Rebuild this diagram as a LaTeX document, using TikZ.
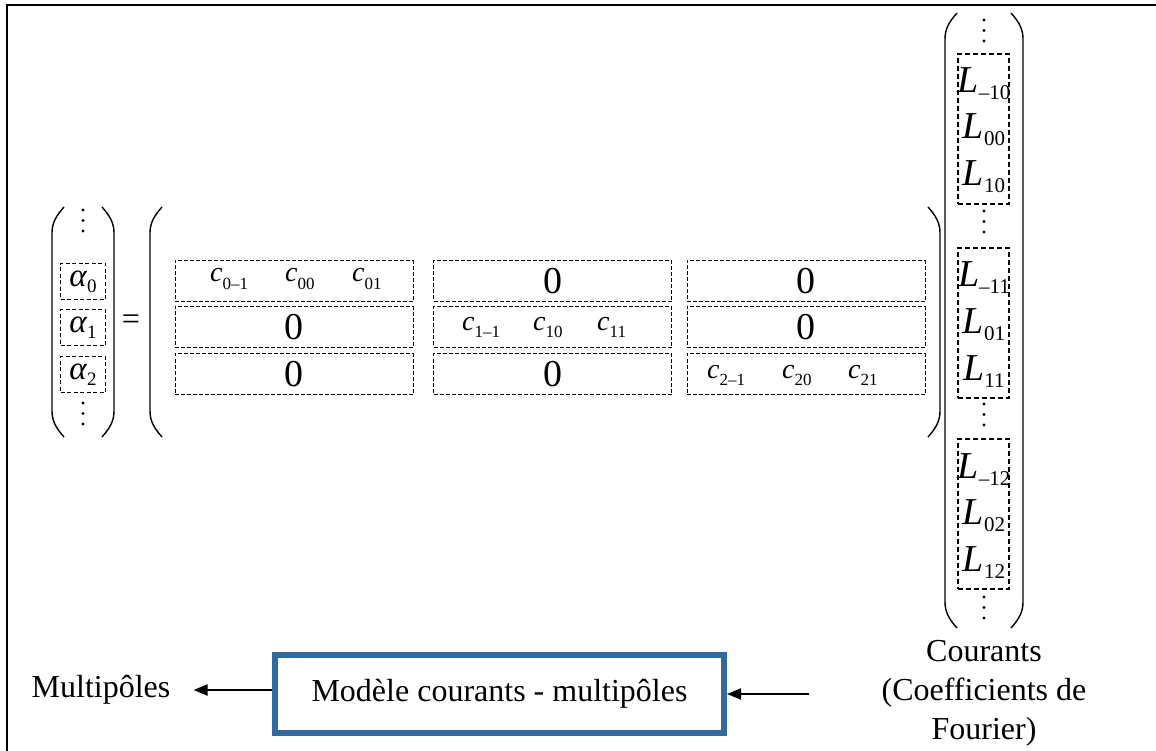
\documentclass[tikz,border=0pt]{standalone}
\usepackage{fontspec}
\setmainfont{Liberation Serif}
\usetikzlibrary{arrows.meta,positioning}

\definecolor{modelblue}{RGB}{49,106,158}

% indexed entries of the vectors and of the matrix
\newcommand{\avec}[1]{\textit{α}\raisebox{-6pt}{\fontsize{19}{19}\selectfont #1}}
\newcommand{\cent}[1]{\textit{c}\raisebox{-7pt}{\fontsize{17}{17}\selectfont #1}}
\newcommand{\lvec}[1]{\textit{L}\raisebox{-7pt}{\fontsize{21}{21}\selectfont #1}}
% tall brackets: x of the stem, top, bottom
\newcommand{\parL}[3]{\draw[brk] (#1+12,#2) .. controls (#1+4,#2+9) and (#1,#2+16) .. (#1,#2+26) -- (#1,#3-26) .. controls (#1,#3-16) and (#1+4,#3-9) .. (#1+12,#3);}
\newcommand{\parR}[3]{\draw[brk] (#1-12,#2) .. controls (#1-4,#2+9) and (#1,#2+16) .. (#1,#2+26) -- (#1,#3-26) .. controls (#1,#3-16) and (#1-4,#3-9) .. (#1-12,#3);}
\newcommand{\vdotsat}[2]{\foreach \d in {0,10.5,21} \fill (#1,#2+\d) circle (1.6pt);}

\begin{document}
\begin{tikzpicture}[x=1pt, y=-1pt,
    txt/.style={font=\fontsize{32}{39}\selectfont, inner sep=0pt, align=center},
    brk/.style={line width=1.4pt},
    abox/.style={draw, dash pattern=on 4pt off 2.5pt, line width=1.5pt, minimum width=45pt, minimum height=36pt, inner sep=0pt, font=\fontsize{33}{33}\selectfont},
    cell/.style={draw, dash pattern=on 4pt off 2pt, line width=0.9pt, minimum width=238pt, minimum height=41pt, inner sep=0pt, font=\fontsize{38}{38}\selectfont},
    centry/.style={anchor=base west, inner sep=0pt, font=\fontsize{28}{28}\selectfont},
    lbox/.style={draw, dash pattern=on 5pt off 3pt, line width=1.8pt, minimum width=51pt, minimum height=150pt, inner sep=0pt},
    lentry/.style={anchor=base, inner sep=0pt, font=\fontsize{38}{38}\selectfont},
    model/.style={draw=modelblue, line width=6pt, minimum width=449pt, minimum height=78pt, font=\fontsize{32}{39}\selectfont},
    arrow/.style={-{Triangle[length=14pt, width=11pt]}, line width=2pt}
]
\useasboundingbox (0,0) rectangle (1156,751);
\draw[line width=2pt] (7,770) -- (7,5) -- (1170,5);

% multipoles vector
\parL{52}{207}{437}
\parR{114}{207}{437}
\vdotsat{83}{210}
\vdotsat{83}{403}
\foreach \n/\y in {0/281.5, 1/327.5, 2/374.5}
  \node[abox] (a\n) at (83,\y) {\avec{\n}};

\node[txt] (eq) at (131,322) {=};

% block matrix
\parL{150}{207}{437}
\parR{940}{207}{437}
\node[cell] (b11) at (294,281) {};
\node[cell] (b12) at (552.5,281) {0};
\node[cell] (b13) at (806,281) {0};
\node[cell] (b21) at (294,327) {0};
\node[cell] (b22) at (552.5,327) {};
\node[cell] (b23) at (806,327) {0};
\node[cell] (b31) at (294,374) {0};
\node[cell] (b32) at (552.5,374) {0};
\node[cell] (b33) at (806,374) {};
\foreach \x/\s in {210/0–1, 285/00, 352/01}
  \node[centry] at (\x,282) {\cent{\s}};
\foreach \x/\s in {462/1–1, 533/10, 597/11}
  \node[centry] at (\x,330) {\cent{\s}};
\foreach \x/\s in {707/2–1, 782/20, 848/21}
  \node[centry] at (\x,378) {\cent{\s}};

% currents vector
\parL{945}{13}{628}
\parR{1023}{13}{628}
\vdotsat{984}{20}
\vdotsat{984}{211}
\vdotsat{984}{404}
\vdotsat{984}{597}
\foreach \t/\n in {53/0, 247/1, 438/2} {
  \node[lbox, anchor=north] (l\n) at (983.5,\t) {};
  \node[lentry] at (984,\t+40) {\lvec{–1\n}};
  \node[lentry] at (984,\t+86) {\lvec{0\n}};
  \node[lentry] at (984,\t+133) {\lvec{1\n}};
}

% model
\node[model] (mod) at (499.5,694) {Modèle courants - multipôles};
\node[txt] (mp) at (101,690) {Multipôles};
\node[txt] (cour) at (984,693) {Courants\\(Coefficients de\\Fourier)};
\coordinate (src) at (809,694);

\draw[arrow, shorten >=23pt] (mod.west |- mp.east) -- (mp.east);
\draw[arrow] (src) -- (mod.east |- src);
\end{tikzpicture}
\end{document}
